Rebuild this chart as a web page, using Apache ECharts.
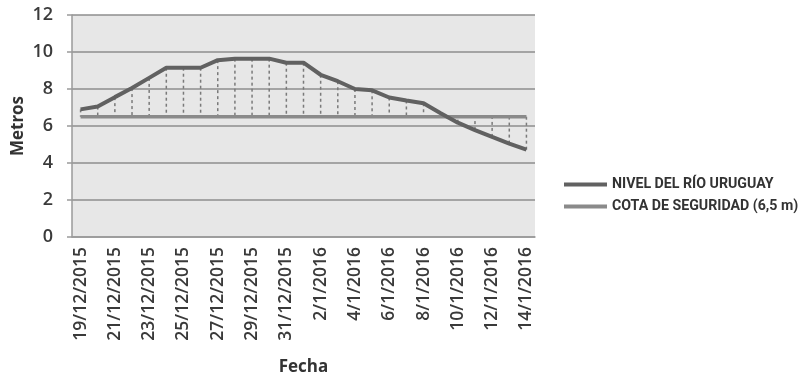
<!DOCTYPE html>
<html>
<head>
<meta charset="utf-8">
<script src="https://cdn.jsdelivr.net/npm/echarts@6/dist/echarts.min.js"></script>
<style>
  html, body { margin: 0; padding: 0; background: #ffffff; }
  #chart { width: 802px; height: 375px; }
</style>
</head>
<body>
<div id="chart"></div>
<script>
// Daily river level at the gauge vs. the safety threshold
const fechas = [
  "19/12/2015", "20/12/2015", "21/12/2015", "22/12/2015", "23/12/2015",
  "24/12/2015", "25/12/2015", "26/12/2015", "27/12/2015", "28/12/2015",
  "29/12/2015", "30/12/2015", "31/12/2015", "1/1/2016", "2/1/2016",
  "3/1/2016", "4/1/2016", "5/1/2016", "6/1/2016", "7/1/2016",
  "8/1/2016", "9/1/2016", "10/1/2016", "11/1/2016", "12/1/2016",
  "13/1/2016", "14/1/2016"
];
const nivelRio = [
  6.9, 7.05, 7.56, 8.05, 8.6, 9.15, 9.15, 9.15, 9.56, 9.64,
  9.64, 9.64, 9.42, 9.42, 8.77, 8.42, 8.0, 7.93, 7.54, 7.38,
  7.23, 6.69, 6.18, 5.78, 5.41, 5.05, 4.72
];
const cotaSeguridad = [
  6.5, 6.5, 6.5, 6.5, 6.5, 6.5, 6.5, 6.5, 6.5, 6.5,
  6.5, 6.5, 6.5, 6.5, 6.5, 6.5, 6.5, 6.5, 6.5, 6.5,
  6.5, 6.5, 6.5, 6.5, 6.5, 6.5, 6.5
];
const yTicks = { min: 0, max: 12, step: 2 };

const nombreNivel = "NIVEL DEL RÍO URUGUAY";
const nombreCota = "COTA DE SEGURIDAD (6,5 m)";

const labelFont = "'Open Sans', 'Noto Sans', sans-serif";
const legendFont = "Roboto, 'Liberation Sans', sans-serif";

// high-low connectors between the river level and the threshold
const conectores = fechas.map((f, i) => [i, nivelRio[i], cotaSeguridad[i]]);

const chart = echarts.init(document.getElementById('chart'), null, { renderer: 'canvas' });

chart.setOption({
  animation: false,
  backgroundColor: '#ffffff',
  grid: {
    left: 72, right: 267, top: 15, bottom: 138,
    outerBoundsMode: 'none',
    containLabel: false,
    show: true, backgroundColor: '#e7e7e7', borderWidth: 0
  },
  legend: {
    orient: 'vertical',
    left: 559, top: 171,
    itemWidth: 43, itemHeight: 4, itemGap: 5,
    textStyle: {
      fontFamily: legendFont, fontWeight: 'bold', fontSize: 14.2,
      color: '#333333', lineHeight: 17
    },
    data: [
      { name: nombreNivel, icon: 'rect', itemStyle: { color: '#616161' } },
      { name: nombreCota, icon: 'rect', itemStyle: { color: '#8a8a8a' } }
    ]
  },
  xAxis: {
    type: 'category',
    data: fechas,
    boundaryGap: true,
    name: 'Fecha',
    nameLocation: 'middle',
    nameGap: 122,
    nameMoveOverlap: false,
    nameTextStyle: { fontFamily: labelFont, fontWeight: 'bold', fontSize: 17, color: '#333333' },
    axisLine: { show: true, lineStyle: { color: '#9a9a9a', width: 1.5 } },
    axisTick: { show: false },
    axisLabel: {
      interval: 1, rotate: 90, margin: 10,
      fontFamily: labelFont, fontWeight: 600, fontSize: 17.5, color: '#3a3a3a'
    },
    splitLine: { show: false }
  },
  yAxis: {
    type: 'value',
    min: yTicks.min, max: yTicks.max, interval: yTicks.step,
    name: 'Metros',
    nameLocation: 'middle',
    nameGap: 45,
    nameRotate: 90,
    nameMoveOverlap: false,
    nameTextStyle: { fontFamily: labelFont, fontWeight: 'bold', fontSize: 17, color: '#333333' },
    axisLine: { show: true, lineStyle: { color: '#9a9a9a', width: 1.5 } },
    axisTick: { show: true, inside: false, length: 5, lineStyle: { color: '#9a9a9a', width: 1.5 } },
    axisLabel: { margin: 19, fontFamily: labelFont, fontWeight: 600, fontSize: 18, color: '#3a3a3a' },
    splitLine: { show: true, lineStyle: { color: '#8e8e8e', width: 1.5 } }
  },
  series: [
    {
      type: 'custom',
      name: 'conectores',
      data: conectores,
      z: 1,
      silent: true,
      renderItem: function (params, api) {
        const a = api.coord([api.value(0), api.value(1)]);
        const b = api.coord([api.value(0), api.value(2)]);
        return {
          type: 'line',
          shape: { x1: a[0], y1: a[1], x2: b[0], y2: b[1] },
          style: { stroke: '#7a7a7a', lineWidth: 1.5, lineDash: [3, 3] }
        };
      }
    },
    {
      type: 'line',
      name: nombreCota,
      data: cotaSeguridad,
      symbol: 'none',
      z: 2,
      lineStyle: { color: '#8a8a8a', width: 3.5 },
      itemStyle: { color: '#8a8a8a' }
    },
    {
      type: 'line',
      name: nombreNivel,
      data: nivelRio,
      symbol: 'none',
      z: 3,
      lineStyle: { color: '#616161', width: 4 },
      itemStyle: { color: '#616161' }
    }
  ]
});
</script>
</body>
</html>
